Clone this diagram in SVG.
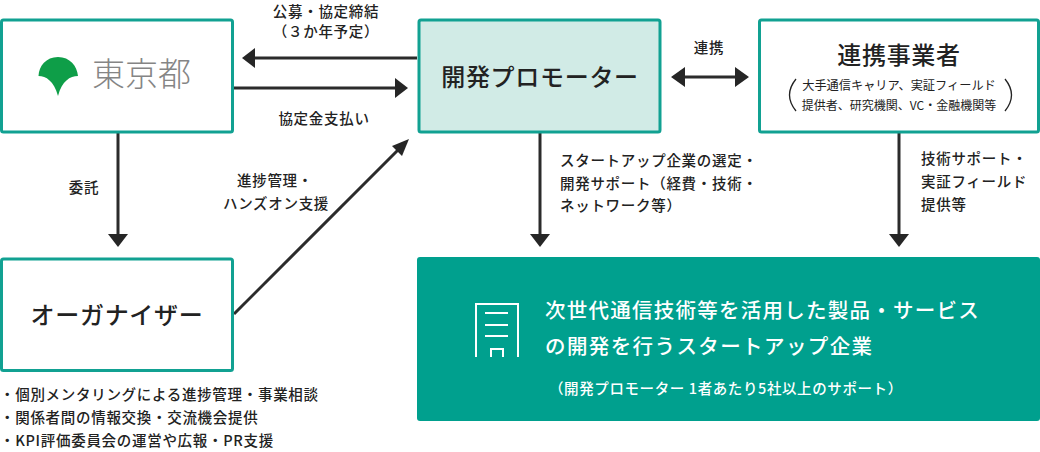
<svg xmlns="http://www.w3.org/2000/svg" width="1040" height="452" viewBox="0 0 1040 452">
<style>
text{font-family:"Noto Sans CJK JP","Noto Sans",sans-serif;fill:#222;}
.box{fill:#fff;stroke:#11a192;stroke-width:3;}
.lab{font-size:14.500px;font-weight:500;letter-spacing:.7px;}
.c{text-anchor:middle;}
.line{stroke:#2b2b2b;stroke-width:3;fill:none;}
.arrow{fill:#262626;}
.ic{stroke:#fff;stroke-width:2;fill:none;}
</style>
<g id="connectors">
<path class="line" d="M417 58H250"/><path class="arrow" d="M242 58l13-10v20z"/>
<path class="line" d="M234 88H398"/><path class="arrow" d="M408 88l-13-10v20z"/>
<path class="line" d="M118 133V236"/><path class="arrow" d="M118 247l-10-13h20z"/>
<path class="line" d="M234 314L400 148"/><path class="arrow" d="M409 139l-17 7 10 10z"/>
<path class="line" d="M680 77H740"/><path class="arrow" d="M671 77l14-10v20zM749 77l-14-10v20z"/>
<path class="line" d="M540 133V236"/><path class="arrow" d="M540 247l-10-13h20z"/>
<path class="line" d="M899 133V236"/><path class="arrow" d="M899 247l-10-13h20z"/>
</g>
<g id="tokyo">
<rect class="box" x="1.500" y="20" width="231" height="112" rx="2"/>
<path d="M58 57C46 57 39 66 38.500 76C46 76 54 81 58 96C62 81 70 76 78 76C77 66 70 57 58 57Z" fill="#0e9e48"/>
<text x="92" y="86" font-size="33" style="fill:#858585;font-weight:300">東京都</text>
</g>
<g id="promoter">
<rect x="419" y="20" width="241" height="112" rx="2" fill="#d1ebe6" stroke="#11a192" stroke-width="3"/>
<text class="c" x="540" y="85.500" font-size="24" font-weight="500" letter-spacing=".7">開発プロモーター</text>
</g>
<g id="partner">
<rect class="box" x="759.500" y="20" width="279" height="112" rx="2"/>
<text class="c" x="899" y="64" font-size="24" font-weight="500" letter-spacing=".7">連携事業者</text>
<text class="c" x="899" y="90" font-size="12.200">大手通信キャリア、実証フィールド</text>
<text class="c" x="899" y="110" font-size="12">提供者、研究機関、VC・金融機関等</text>
<path d="M796 79Q783 95 796 111M1005 79Q1018 95 1005 111" fill="none" stroke="#222" stroke-width="1.300"/>
</g>
<g id="organizer">
<rect class="box" x="1.500" y="259" width="231" height="111.500" rx="2"/>
<text class="c" x="117" y="324" font-size="24" font-weight="500" letter-spacing=".7">オーガナイザー</text>
</g>
<g id="startup">
<rect x="417" y="257" width="623" height="164" rx="3" fill="#00a08e"/>
<path class="ic" d="M476 357V304H518V357M485 313H508M485 325H508M485 336H508M491 357V349H503V357"/>
<text x="545" y="318" font-size="20.500" font-weight="500" letter-spacing="1.250" style="fill:#fff">次世代通信技術等を活用した製品・サービス</text>
<text x="545" y="354" font-size="20.500" font-weight="500" letter-spacing="1.400" style="fill:#fff">の開発を行うスタートアップ企業</text>
<text x="549" y="394" font-size="14.500" font-weight="500" letter-spacing=".6" style="fill:#fff">（開発プロモーター 1者あたり5社以上のサポート）</text>
</g>
<g id="labels">
<text class="lab c" x="326" y="17">公募・協定締結</text>
<text class="lab c" x="326" y="37">（３か年予定）</text>
<text class="lab c" x="324" y="124">協定金支払い</text>
<text class="lab c" x="84" y="193">委託</text>
<text class="lab c" x="275" y="186">進捗管理・</text>
<text class="lab c" x="276" y="209">ハンズオン支援</text>
<text class="lab c" x="709" y="53">連携</text>
<text class="lab" x="560" y="166">スタートアップ企業の選定・</text>
<text class="lab" x="560" y="189">開発サポート（経費・技術・</text>
<text class="lab" x="560" y="211">ネットワーク等）</text>
<text class="lab" x="921" y="164">技術サポート・</text>
<text class="lab" x="921" y="187">実証フィールド</text>
<text class="lab" x="921" y="210">提供等</text>
<text class="lab" x="0" y="399.500">・個別メンタリングによる進捗管理・事業相談</text>
<text class="lab" x="0" y="422.500">・関係者間の情報交換・交流機会提供</text>
<text class="lab" x="0" y="446">・KPI評価委員会の運営や広報・PR支援</text>
</g>
</svg>
